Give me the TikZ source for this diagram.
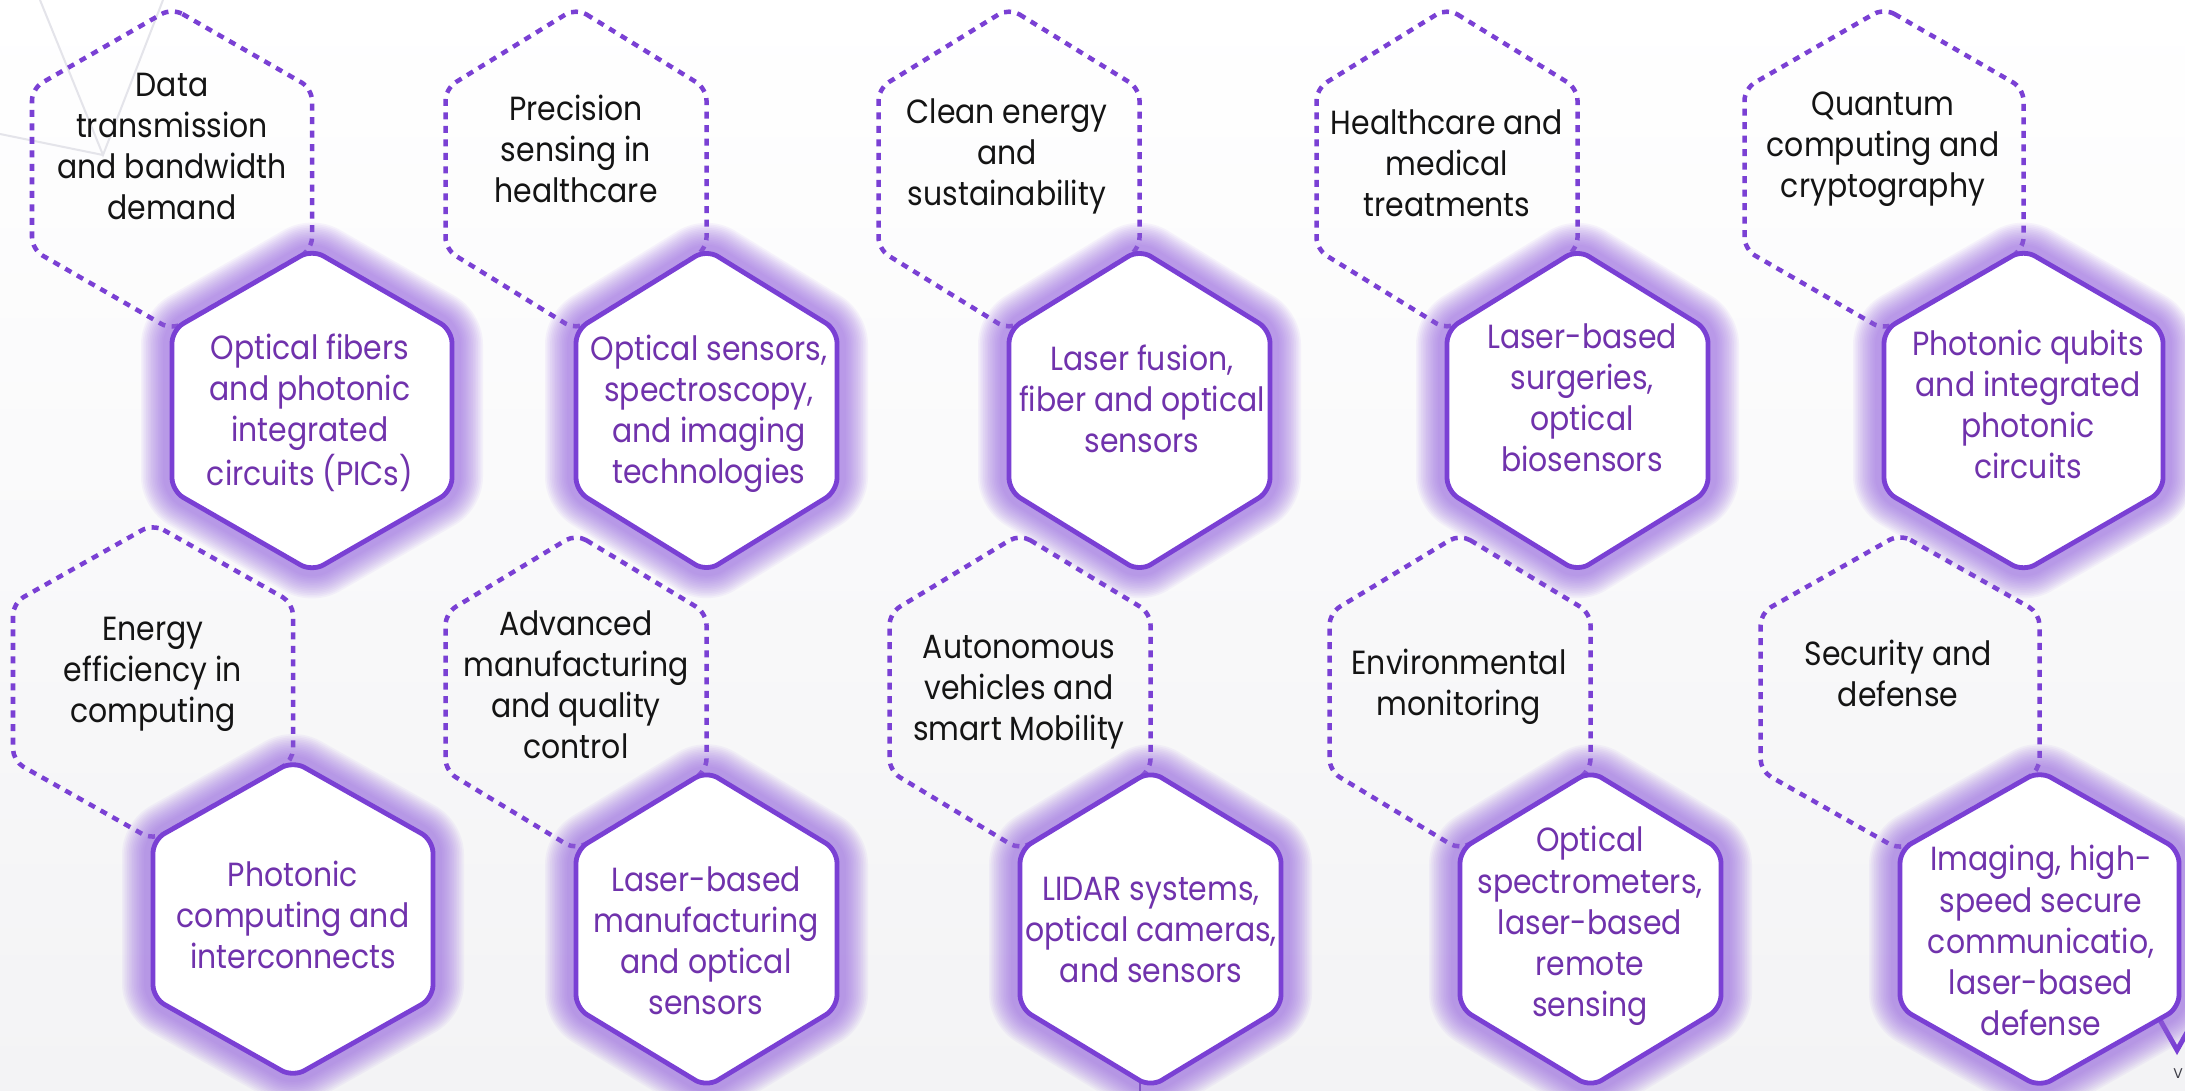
\documentclass[tikz,border=0pt]{standalone}
\usepackage{graphicx}
\usepackage{fontspec}
\setmainfont{Poppins}
\definecolor{hexc}{RGB}{122,64,212}
\definecolor{labc}{RGB}{112,50,172}
\definecolor{glowc}{RGB}{150,100,225}
\definecolor{bgc}{RGB}{243,243,245}
\definecolor{faint}{RGB}{228,228,234}
\newcommand\lbl[1]{\scalebox{1}[1.12]{\begin{tabular}{@{}c@{}}#1\end{tabular}}}
\newcommand\hexdraw[5]{\draw[#1] (#2,#3) -- ++(#4,{#5/4}) -- ++(0,{#5/2}) -- ++(-#4,{#5/4}) -- ++(-#4,{-#5/4}) -- ++(0,{-#5/2}) -- cycle;}
\newcommand\glowhex[4]{%
  \foreach \gi in {0,...,13}{%
    \draw[glowc, line width={(62-3.4*\gi)*0.01cm}, opacity=0.065, rounded corners=0.14cm, line join=round]
      (#1,#2) -- ++(#3,{#4/4}) -- ++(0,{#4/2}) -- ++(-#3,{#4/4}) -- ++(-#3,{-#4/4}) -- ++(0,{-#4/2}) -- cycle;}}
\begin{document}
\begin{tikzpicture}[x=0.01cm,y=-0.01cm,
  dashhex/.style={draw=hexc, line width=0.045cm, dash pattern=on 0.07cm off 0.065cm, rounded corners=0.12cm},
  solidhex/.style={draw=hexc, fill=white, line width=0.048cm, rounded corners=0.13cm},
  toplabel/.style={text={rgb,255:red,20;green,20;blue,20}, font=\fontsize{8.5}{10.45}\selectfont, inner sep=0pt},
  sublabel/.style={text=labc, font=\fontsize{8.5}{10.45}\selectfont, inner sep=0pt},
  faintline/.style={draw=faint, line width=0.02cm}]
\useasboundingbox (0,0) rectangle (2185,1091);
\clip (0,0) rectangle (2185,1091);
\shade[top color=white, bottom color=bgc] (0,0) rectangle (2185,1091);
% faint background lines
\coordinate (f0) at (103,155);
\coordinate (f1) at (40,0);
\coordinate (f2) at (163,0);
\coordinate (f3) at (0,134);
\draw[faintline] (f1) -- (f0) -- (f2);
\draw[faintline] (f3) -- (f0);
% logo fragment
\coordinate (v1) at (2160,1020);
\coordinate (v2) at (2177,1050);
\coordinate (v3) at (2194,1020);
\draw[hexc, line width=0.05cm] (v1) -- (v2) -- (v3);
\node[text={rgb,255:red,60;green,60;blue,70}, font=\fontsize{4}{5}\selectfont, inner sep=0pt] (logo) at (2178,1074) {V};
% small line below LIDAR hexagon
\coordinate (l1) at (1140,1072);
\coordinate (l2) at (1140,1091);
\draw[draw={rgb,255:red,110;green,80;blue,160}, line width=0.02cm] (l1) -- (l2);

% dashed hexagons
\hexdraw{dashhex}{172}{8}{140}{322}
\hexdraw{dashhex}{576}{8}{130.5}{322}
\hexdraw{dashhex}{1009}{8}{130.5}{322}
\hexdraw{dashhex}{1447}{8}{130.5}{322}
\hexdraw{dashhex}{1884}{8}{139.5}{322}
\hexdraw{dashhex}{153}{524}{140}{316}
\hexdraw{dashhex}{576}{534}{130.5}{316}
\hexdraw{dashhex}{1020}{534}{130.5}{316}
\hexdraw{dashhex}{1460}{534}{130.5}{316}
\hexdraw{dashhex}{1900}{534}{139.5}{316}

% glows
\glowhex{312}{249.5}{140}{322}
\glowhex{706.5}{249.5}{130.5}{322}
\glowhex{1139.5}{249.5}{130.5}{322}
\glowhex{1577.5}{249.5}{130.5}{322}
\glowhex{2023.5}{249.5}{139.5}{322}
\glowhex{293}{761}{140}{316}
\glowhex{706.5}{771}{130.5}{316}
\glowhex{1150.5}{771}{130.5}{316}
\glowhex{1590.5}{771}{130.5}{316}
\glowhex{2039.5}{771}{139.5}{316}

% solid hexagons
\hexdraw{solidhex}{312}{249.5}{140}{322}
\hexdraw{solidhex}{706.5}{249.5}{130.5}{322}
\hexdraw{solidhex}{1139.5}{249.5}{130.5}{322}
\hexdraw{solidhex}{1577.5}{249.5}{130.5}{322}
\hexdraw{solidhex}{2023.5}{249.5}{139.5}{322}
\hexdraw{solidhex}{293}{761}{140}{316}
\hexdraw{solidhex}{706.5}{771}{130.5}{316}
\hexdraw{solidhex}{1150.5}{771}{130.5}{316}
\hexdraw{solidhex}{1590.5}{771}{130.5}{316}
\hexdraw{solidhex}{2039.5}{771}{139.5}{316}

% driver labels
\node[toplabel] (t1) at (172,150) {\lbl{Data\\transmission\\and bandwidth\\demand}};
\node[toplabel] (t2) at (576,153) {\lbl{Precision\\sensing in\\healthcare}};
\node[toplabel] (t3) at (1007,156) {\lbl{Clean energy\\and\\sustainability}};
\node[toplabel] (t4) at (1447,167) {\lbl{Healthcare and\\medical\\treatments}};
\node[toplabel] (t5) at (1883,148) {\lbl{Quantum\\computing and\\cryptography}};
\node[toplabel] (t6) at (153,673) {\lbl{Energy\\efficiency in\\computing}};
\node[toplabel] (t7) at (576,689) {\lbl{Advanced\\manufacturing\\and quality\\control}};
\node[toplabel] (t8) at (1019,691) {\lbl{Autonomous\\vehicles and\\smart Mobility}};
\node[toplabel] (t9) at (1459,687) {\lbl{Environmental\\monitoring}};
\node[toplabel] (t10) at (1898,678) {\lbl{Security and\\defense}};

% technology labels
\node[sublabel] (s1) at (310,414) {\lbl{Optical fibers\\and photonic\\integrated\\circuits (PICs)}};
\node[sublabel] (s2) at (709,414) {\lbl{Optical sensors,\\spectroscopy,\\and imaging\\technologies}};
\node[sublabel] (s3) at (1142,403) {\lbl{Laser fusion,\\fiber and optical\\sensors}};
\node[sublabel] (s4) at (1582,402) {\lbl{Laser-based\\surgeries,\\optical\\biosensors}};
\node[sublabel] (s5) at (2028,409) {\lbl{Photonic qubits\\and integrated\\photonic\\circuits}};
\node[sublabel] (s6) at (293,919) {\lbl{Photonic\\computing and\\interconnects}};
\node[sublabel] (s7) at (706,945) {\lbl{Laser-based\\manufacturing\\and optical\\sensors}};
\node[sublabel] (s8) at (1151,933) {\lbl{LIDAR systems,\\optical cameras,\\and sensors}};
\node[sublabel] (s9) at (1590,926) {\lbl{Optical\\spectrometers,\\laser-based\\remote\\sensing}};
\node[sublabel] (s10) at (2041,945) {\lbl{Imaging, high-\\speed secure\\communicatio,\\laser-based\\defense}};
\end{tikzpicture}
\end{document}
